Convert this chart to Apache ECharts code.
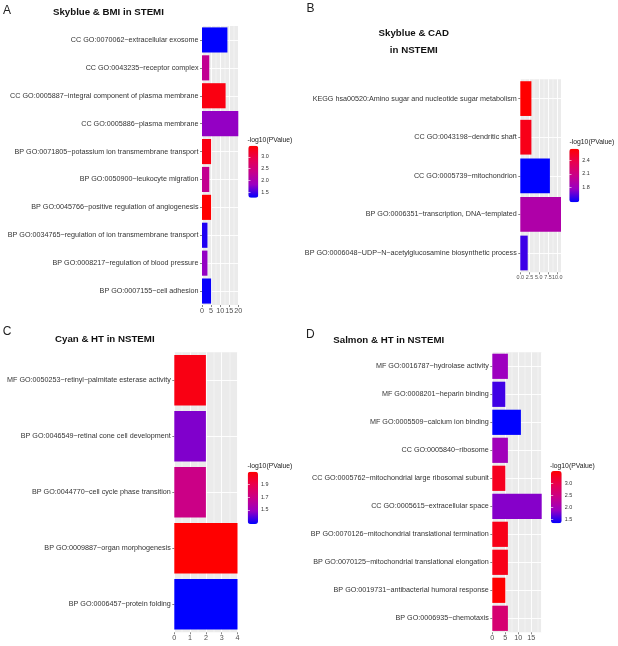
<!DOCTYPE html>
<html><head><meta charset="utf-8">
<script src="https://cdn.jsdelivr.net/npm/echarts@6/dist/echarts.min.js"></script>
<style>html,body{margin:0;padding:0;background:#fff}#c{width:618px;height:646px}</style>
</head><body><div id="c"></div>
<script>
// ---------- data (top-to-bottom order as displayed) ----------
const catsA = [
  'CC GO:0070062~extracellular exosome',
  'CC GO:0043235~receptor complex',
  'CC GO:0005887~integral component of plasma membrane',
  'CC GO:0005886~plasma membrane',
  'BP GO:0071805~potassium ion transmembrane transport',
  'BP GO:0050900~leukocyte migration',
  'BP GO:0045766~positive regulation of angiogenesis',
  'BP GO:0034765~regulation of ion transmembrane transport',
  'BP GO:0008217~regulation of blood pressure',
  'BP GO:0007155~cell adhesion'
];
const countA = [14, 4, 13, 20, 5, 4, 5, 3, 3, 5];
const logpA  = [1.27, 2.28, 3.35, 1.80, 3.35, 2.30, 3.47, 1.38, 1.80, 1.30];
const rangeA = [1.27, 3.47];
const legendTicksA = [1.5, 2.0, 2.5, 3.0];

const catsB = [
  'KEGG hsa00520:Amino sugar and nucleotide sugar metabolism',
  'CC GO:0043198~dendritic shaft',
  'CC GO:0005739~mitochondrion',
  'BP GO:0006351~transcription, DNA\u2212templated',
  'BP GO:0006048~UDP\u2212N\u2212acetylglucosamine biosynthetic process'
];
const countB = [3, 3, 8, 11, 2];
const logpB  = [2.67, 2.58, 1.46, 1.90, 1.58];
const rangeB = [1.46, 2.67];
const legendTicksB = [1.8, 2.1, 2.4];

const catsC = [
  'MF GO:0050253~retinyl\u2212palmitate esterase activity',
  'BP GO:0046549~retinal cone cell development',
  'BP GO:0044770~cell cycle phase transition',
  'BP GO:0009887~organ morphogenesis',
  'BP GO:0006457~protein folding'
];
const countC = [2, 2, 2, 4, 4];
const logpC  = [2.05, 1.45, 1.70, 2.10, 1.28];
const rangeC = [1.28, 2.10];
const legendTicksC = [1.5, 1.7, 1.9];

const catsD = [
  'MF GO:0016787~hydrolase activity',
  'MF GO:0008201~heparin binding',
  'MF GO:0005509~calcium ion binding',
  'CC GO:0005840~ribosome',
  'CC GO:0005762~mitochondrial large ribosomal subunit',
  'CC GO:0005615~extracellular space',
  'BP GO:0070126~mitochondrial translational termination',
  'BP GO:0070125~mitochondrial translational elongation',
  'BP GO:0019731~antibacterial humoral response',
  'BP GO:0006935~chemotaxis'
];
const countD = [6, 5, 11, 6, 5, 19, 6, 6, 5, 6];
const logpD  = [1.90, 1.55, 1.32, 1.95, 3.30, 1.80, 3.35, 3.35, 3.52, 2.65];
const rangeD = [1.32, 3.52];
const legendTicksD = [1.5, 2.0, 2.5, 3.0];

const panelLetters = ['A', 'B', 'C', 'D'];
const panelTitles = ['Skyblue & BMI in STEMI', 'Skyblue & CAD\nin NSTEMI', 'Cyan & HT in NSTEMI', 'Salmon & HT in NSTEMI'];
const legendTitle = '-log10(PValue)';

// ---------- styling / layout ----------
const FONT = '"Liberation Sans", Arial, Helvetica, sans-serif';
const palette = ['#0000FF', '#9A00C2', '#C90089', '#E8004F', '#FF0000'];

const panels = [
  {cats: catsA, count: countA, logp: logpA, range: rangeA, lt: legendTicksA, xInt: 5, xFont: 7.2, dec: 0,
   grid: {left: 202, top: 26, width: 36.3, height: 279},
   bar: {left: 248.3, top: 145.7, w: 10, h: 52}, legT: {x: 247.5, y: 140.5},
   letter: {x: 3, y: 10.7}, title: {x: 53, y: 12.5, align: 'left'}},
  {cats: catsB, count: countB, logp: logpB, range: rangeB, lt: legendTicksB, xInt: 2.5, xFont: 5.4, dec: 1,
   grid: {left: 520.3, top: 79.3, width: 40.7, height: 193},
   bar: {left: 569.3, top: 148.7, w: 10, h: 53.6}, legT: {x: 569.5, y: 141.7},
   letter: {x: 306.5, y: 8.5}, title: {x: 413.8, y: 41.5, align: 'center'}},
  {cats: catsC, count: countC, logp: logpC, range: rangeC, lt: legendTicksC, xInt: 1, xFont: 7.2, dec: 0,
   grid: {left: 174.3, top: 352.3, width: 63.2, height: 280},
   bar: {left: 247.7, top: 471.7, w: 10.3, h: 52.3}, legT: {x: 247.5, y: 466},
   letter: {x: 2.7, y: 331.3}, title: {x: 55, y: 339.7, align: 'left'}},
  {cats: catsD, count: countD, logp: logpD, range: rangeD, lt: legendTicksD, xInt: 5, xFont: 7.2, dec: 0,
   grid: {left: 492.3, top: 352.3, width: 49.4, height: 280},
   bar: {left: 551, top: 471, w: 10.7, h: 52.3}, legT: {x: 550, y: 465.7},
   letter: {x: 306, y: 334.2}, title: {x: 333.3, y: 340.3, align: 'left'}}
];

const grid = [], xAxis = [], yAxis = [], series = [], visualMap = [], title = [];

panels.forEach((p, i) => {
  grid.push(Object.assign({show: true, backgroundColor: '#EBEBEB', borderWidth: 0}, p.grid));
  xAxis.push({
    type: 'value', gridIndex: i, min: 0, max: 'dataMax', interval: p.xInt,
    axisLine: {show: false},
    axisTick: {show: true, length: 2, lineStyle: {color: '#333', width: 0.6}},
    axisLabel: {fontFamily: FONT, fontSize: p.xFont, color: '#4D4D4D', margin: 2.5, showMaxLabel: p.dec === 1 || i === 3 ? false : true,
      formatter: v => v.toFixed(p.dec)},
    splitLine: {show: true, lineStyle: {color: '#FFFFFF', width: 0.9}},
    minorSplitLine: {show: true, lineStyle: {color: '#FFFFFF', width: 0.45}},
    minorTick: {show: false, splitNumber: 2}
  });
  yAxis.push({
    type: 'category', gridIndex: i, data: p.cats, inverse: true,
    axisLine: {show: false},
    axisTick: {show: true, alignWithLabel: true, interval: 0, length: 2, lineStyle: {color: '#333', width: 0.6}},
    axisLabel: {fontFamily: FONT, fontSize: 7.2, color: '#333', margin: 3.5, interval: 0},
    splitLine: {show: true, alignWithLabel: true, interval: 0, lineStyle: {color: '#FFFFFF', width: 0.9}}
  });
  series.push({
    type: 'bar', xAxisIndex: i, yAxisIndex: i, silent: true,
    data: p.cats.map((c, j) => [p.count[j], c, p.logp[j]]),
    encode: {x: 0, y: 1},
    barCategoryGap: '10%'
  });
  visualMap.push({
    type: 'continuous', seriesIndex: i, dimension: 2,
    min: p.range[0], max: p.range[1],
    inRange: {color: palette},
    calculable: false, hoverLink: false, showLabel: false,
    itemWidth: p.bar.w, itemHeight: p.bar.h,
    left: p.bar.left, top: p.bar.top, padding: 0, z: 2
  });
  // letters, titles, legend titles
  title.push({text: panelLetters[i], left: p.letter.x, top: p.letter.y, padding: 0,
    textVerticalAlign: 'middle', textAlign: 'left',
    textStyle: {fontFamily: FONT, fontSize: 12, fontWeight: 'normal', color: '#222'}});
  title.push({text: panelTitles[i], left: p.title.x, top: p.title.y, padding: 0,
    textVerticalAlign: 'middle', textAlign: p.title.align,
    textStyle: {fontFamily: FONT, fontSize: 9.7, fontWeight: 'bold', color: '#111', lineHeight: 17}});
  title.push({text: legendTitle, left: p.legT.x, top: p.legT.y, padding: 0,
    textVerticalAlign: 'middle', textAlign: 'left',
    textStyle: {fontFamily: FONT, fontSize: 6.8, fontWeight: 'normal', color: '#222'}});
});

// helper grids that carry the colour-bar tick labels
panels.forEach((p, i) => {
  const gi = 4 + i;
  grid.push({left: p.bar.left, top: p.bar.top, width: p.bar.w, height: p.bar.h, show: false, z: 10});
  xAxis.push({type: 'value', gridIndex: gi, show: false, min: 0, max: 1});
  yAxis.push({
    type: 'value', gridIndex: gi, min: p.range[0], max: p.range[1], position: 'right', z: 10,
    axisLine: {show: false}, splitLine: {show: false},
    axisTick: {show: true, inside: true, length: 2.2, customValues: p.lt, lineStyle: {color: '#FFFFFF', width: 0.6}},
    axisLabel: {customValues: p.lt, fontFamily: FONT, fontSize: 5.4, color: '#333', margin: 3,
      formatter: v => v.toFixed(1)}
  });
  yAxis.push({
    type: 'value', gridIndex: gi, min: p.range[0], max: p.range[1], position: 'left', z: 10,
    axisLine: {show: false}, splitLine: {show: false},
    axisTick: {show: true, inside: true, length: 2.2, customValues: p.lt, lineStyle: {color: '#FFFFFF', width: 0.6}},
    axisLabel: {show: false}
  });
});

const chart = echarts.init(document.getElementById('c'), null, {renderer: 'canvas'});
chart.setOption({
  animation: false,
  backgroundColor: '#FFFFFF',
  title, grid, xAxis, yAxis, series, visualMap
});
</script>
</body></html>
